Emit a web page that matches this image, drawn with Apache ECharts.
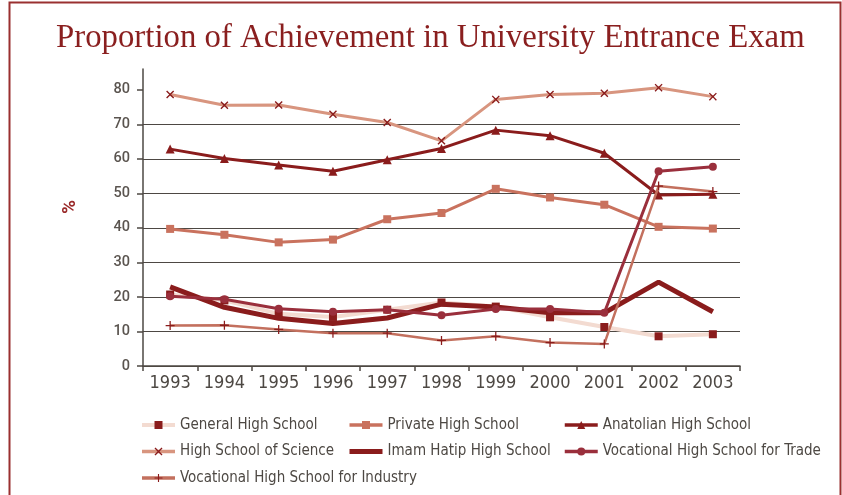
<!DOCTYPE html>
<html>
<head>
<meta charset="utf-8">
<script src="https://cdn.jsdelivr.net/npm/echarts@6/dist/echarts.min.js"></script>
<style>
html,body{margin:0;padding:0;background:#fff;}
#chart{width:842px;height:495px;}
</style>
</head>
<body>
<div id="chart"></div>
<script>
var years = ['1993','1994','1995','1996','1997','1998','1999','2000','2001','2002','2003'];
var yTicks = [0,10,20,30,40,50,60,70,80];
var generalHS   = [20.7, 19.0, 15.1, 14.2, 16.3, 18.4, 17.2, 14.1, 11.3, 8.6, 9.2];
var privateHS   = [39.7, 38.0, 35.8, 36.6, 42.5, 44.3, 51.3, 48.8, 46.7, 40.3, 39.8];
var anatolianHS = [62.8, 60.1, 58.2, 56.4, 59.7, 63.0, 68.3, 66.7, 61.6, 49.5, 49.7];
var scienceHS   = [78.6, 75.5, 75.6, 72.9, 70.5, 65.2, 77.2, 78.6, 79.0, 80.6, 78.0];
var imamHatipHS = [22.9, 17.0, 13.8, 12.3, 13.9, 17.9, 17.1, 15.4, 15.4, 24.3, 15.7];
var tradeVHS    = [20.2, 19.3, 16.6, 15.7, 16.3, 14.7, 16.5, 16.5, 15.4, 56.4, 57.7];
var industryVHS = [11.7, 11.8, 10.6, 9.5, 9.5, 7.4, 8.6, 6.8, 6.4, 52.1, 50.5];

var names = ['General High School','Private High School','Anatolian High School','High School of Science','Imam Hatip High School','Vocational High School for Trade','Vocational High School for Industry'];

var DARK = '#8a1c1c';
var TEXT = '#4d4843';
var X_PATH = 'path://M0,1.2L1.2,0L5,3.8L8.8,0L10,1.2L6.2,5L10,8.8L8.8,10L5,6.2L1.2,10L0,8.8L3.8,5Z';
var PLUS_PATH = 'path://M4.3,0H5.7V4.3H10V5.7H5.7V10H4.3V5.7H0V4.3H4.3Z';

function mk(name, data, lineColor, lineWidth, symbol, symColor, symSize, z) {
  return {
    name: name, type: 'line', data: data, z: z,
    symbol: symbol, symbolSize: symSize, showSymbol: symbol !== 'none',
    lineStyle: {color: lineColor, width: lineWidth},
    itemStyle: {color: symColor, borderWidth: 0},
    emphasis: {disabled: true},
    animation: false
  };
}

var legendFont = {color: TEXT, fontSize: 15, lineHeight: 16, fontFamily: '"DejaVu Sans Condensed",sans-serif'};
function legend(left, data) {
  return {
    orient: 'vertical', left: left, top: 417, itemGap: 10.5,
    itemWidth: 33, itemHeight: 10, itemSymbolKeepAspect: true,
    data: data, textStyle: legendFont, selectedMode: false, padding: 0
  };
}
function li(name, w, extra) {
  var o = {name: name, lineStyle: {width: w}};
  if (extra) { for (var k in extra) o[k] = extra[k]; }
  return o;
}

var chart = echarts.init(document.getElementById('chart'), null, {renderer: 'canvas'});
chart.setOption({
  backgroundColor: '#fff',
  animation: false,
  title: {
    text: 'Proportion of Achievement in University Entrance Exam',
    left: 51, top: 17,
    textStyle: {color: '#8a1f1f', fontSize: 32.8, fontWeight: 'normal', fontFamily: '"Liberation Serif","DejaVu Serif",serif'}
  },
  graphic: [
    {type: 'rect', shape: {x: 9.5, y: 2.5, width: 831, height: 520}, style: {fill: 'none', stroke: '#9a3030', lineWidth: 2}, silent: true},
    {type: 'text', x: 70, y: 207, rotation: Math.PI / 2, style: {text: '%', fill: '#9a2a2a', fontSize: 19, fontWeight: 'bold', fontFamily: 'Roboto, sans-serif', align: 'center', verticalAlign: 'middle'}}
  ],
  legend: [
    legend(140, [li(names[0], 4), li(names[3], 3.5), li(names[6], 3.5)]),
    legend(347, [li(names[1], 3.5), li(names[4], 5, {itemStyle: {color: 'rgba(0,0,0,0)', opacity: 0}})]),
    legend(563, [li(names[2], 3.5), li(names[5], 3.5)])
  ],
  grid: {left: 143, right: 102, top: 69, bottom: 129, containLabel: false},
  xAxis: {
    type: 'category', data: years, boundaryGap: true,
    axisLine: {lineStyle: {color: TEXT, width: 1.5}},
    axisTick: {show: true, length: 5, lineStyle: {color: TEXT, width: 1.5}},
    axisLabel: {color: TEXT, fontSize: 18, margin: 8, fontFamily: '"DejaVu Sans Condensed",sans-serif'},
    splitLine: {show: false}
  },
  yAxis: {
    type: 'value', min: 0, max: 86, interval: 10,
    axisLine: {show: true, lineStyle: {color: TEXT, width: 1.5}},
    axisTick: {show: true, length: 6, customValues: yTicks, lineStyle: {color: TEXT, width: 1.5}},
    axisLabel: {color: '#5a544f', fontSize: 14.5, fontWeight: 500, margin: 13, customValues: yTicks, fontFamily: 'Roboto, sans-serif'},
    splitLine: {show: true, showMaxLine: false, lineStyle: {color: '#4d4843', width: 1.2}}
  },
  series: [
    mk(names[0], generalHS, '#f3dbd1', 4, 'rect', DARK, 8, 2),
    mk(names[1], privateHS, '#c9725e', 3, 'rect', '#c9725e', 8, 3),
    mk(names[2], anatolianHS, DARK, 3, 'triangle', DARK, 9, 4),
    mk(names[3], scienceHS, '#d8957f', 3, X_PATH, DARK, 8, 5),
    mk(names[4], imamHatipHS, DARK, 5, 'none', DARK, 0, 6),
    mk(names[5], tradeVHS, '#9a2f3c', 3, 'circle', '#9a2f3c', 8, 7),
    mk(names[6], industryVHS, '#c3705e', 2.5, PLUS_PATH, DARK, 9, 8)
  ]
});
</script>
</body>
</html>
